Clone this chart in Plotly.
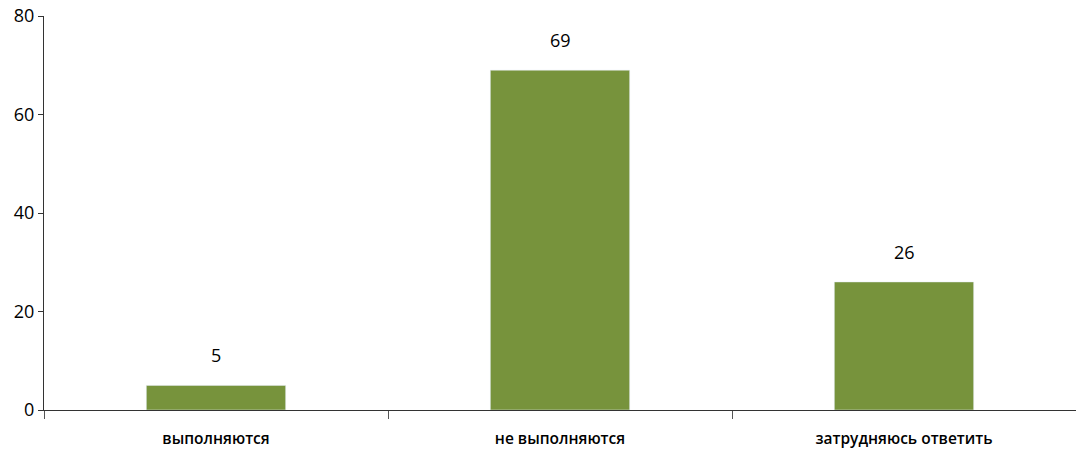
import plotly.graph_objects as go

categories = ["выполняются", "не выполняются", "затрудняюсь ответить"]
values = [5, 69, 26]
y_ticks = [0, 20, 40, 60, 80]

fig = go.Figure()
fig.add_trace(go.Bar(x=categories, y=values, marker_color="#77933C",
                     width=0.405, showlegend=False))

# value labels above bars
for c, v in zip(categories, values):
    fig.add_annotation(x=c, y=v, text=str(v), showarrow=False,
                       yanchor="bottom", yshift=16,
                       font=dict(size=18, color="#000000", weight=500))

fig.update_layout(
    width=1076, height=457,
    margin=dict(l=44, r=0, t=16, b=47, autoexpand=False),
    plot_bgcolor="white", paper_bgcolor="white",
    font=dict(family="Open Sans", color="#000000"),
)
fig.update_xaxes(showline=True, linecolor="#333333", linewidth=1,
                 ticks="outside", tickson="boundaries", ticklen=8,
                 tickcolor="#555555", ticklabelstandoff=14, automargin=False,
                 tickfont=dict(size=15.5, weight=600))
fig.update_yaxes(range=[0, 80], tickvals=y_ticks, showgrid=False,
                 showline=True, linecolor="#333333", linewidth=1,
                 ticks="outside", ticklen=5, tickcolor="#333333",
                 zeroline=False, automargin=False,
                 tickfont=dict(size=18, weight=500))

# drop the default body margin so the figure sits at the page corner
fig.write_html("out.html", config={"displayModeBar": False},
               post_script="document.body.style.margin='0';")
